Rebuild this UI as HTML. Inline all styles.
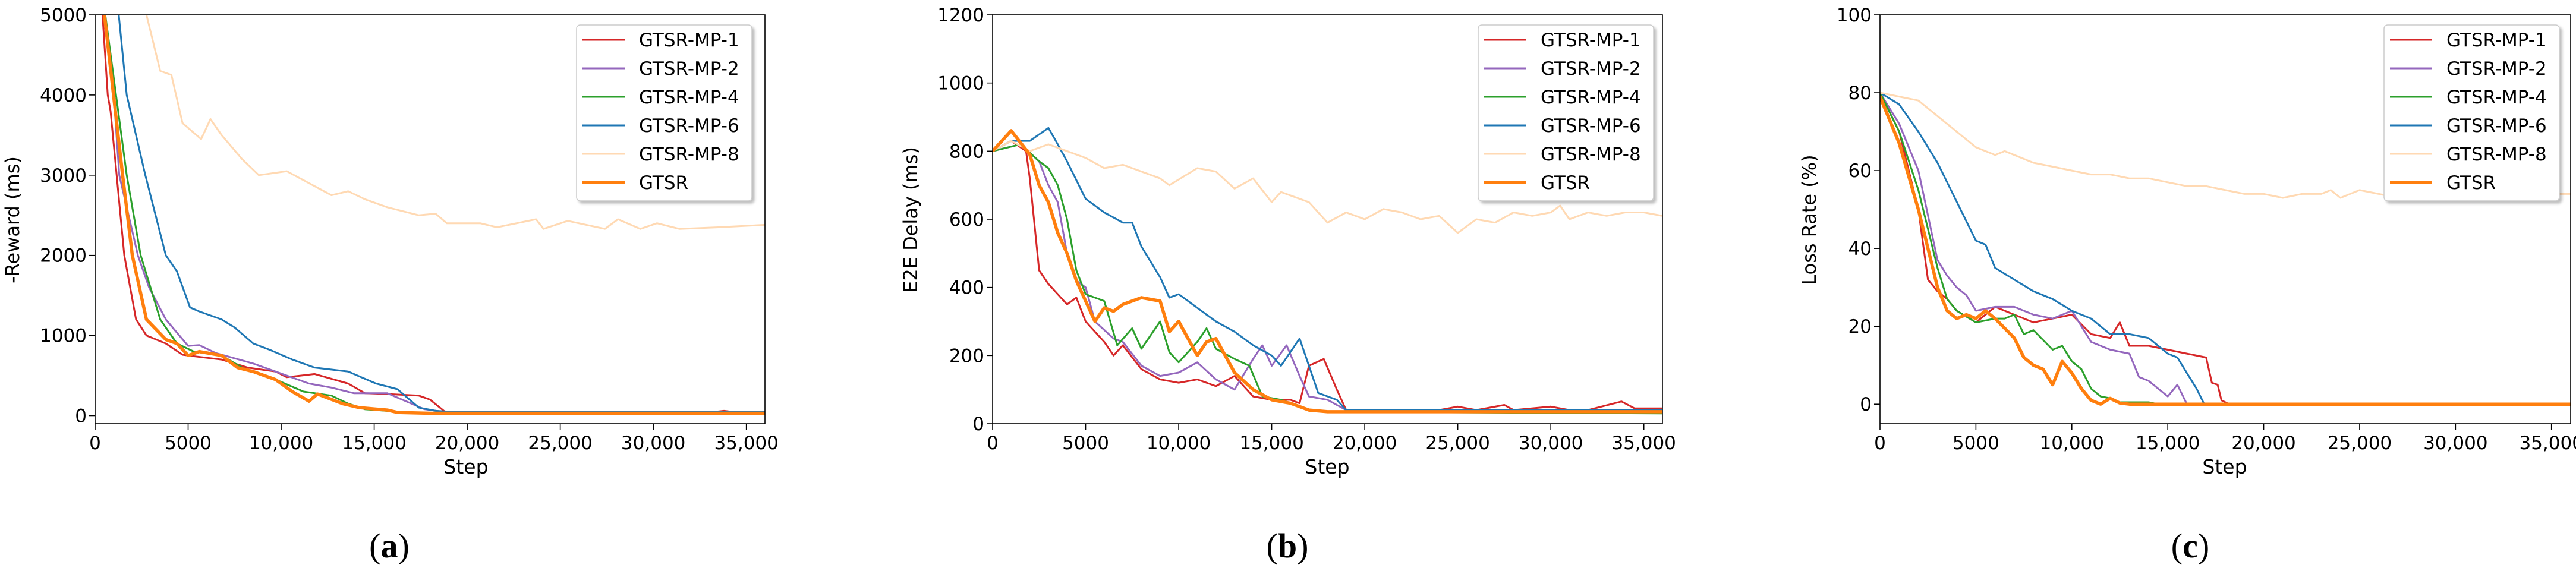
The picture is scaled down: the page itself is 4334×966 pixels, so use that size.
<!DOCTYPE html>
<html><head><meta charset="utf-8"><style>
html,body{margin:0;padding:0;background:#fff;}
svg{display:block;font-family:"DejaVu Sans","Liberation Sans",sans-serif;}
</style></head><body>
<svg id="fig" width="4334" height="966" viewBox="0 0 4334 966" xmlns="http://www.w3.org/2000/svg">
<defs>
<filter id="sh" x="-10%" y="-10%" width="130%" height="130%"><feDropShadow dx="4" dy="4" stdDeviation="2" flood-color="#000" flood-opacity="0.25"/></filter>
</defs>
</svg>
<script>
// ---- Panel (a): -Reward ----
const aS1=[0,400,680,830,1570,2200,2760,3800,4700,5000,6800,8200,9700,10300,11800,13600,14500,15700,17400,18000,18800,20000,33000,33800,34500,36000];
const aV1=[9000,5000,4000,3800,2000,1200,1000,900,760,750,700,600,550,480,520,400,280,270,250,200,50,40,40,60,40,40];
const aS2=[0,500,1000,1300,2300,2900,3800,5000,5600,6500,8500,9700,11500,12700,13900,15700,17000,17700,19000,36000];
const aV2=[9000,5000,4000,3000,2000,1600,1200,870,880,780,650,550,400,350,280,280,150,80,40,40];
const aS4=[0,550,1700,2450,3500,4400,5300,6800,7900,9700,11200,12700,13600,14500,16250,18000,36000];
const aV4=[9000,5000,3000,2000,1200,900,800,750,600,450,300,250,150,80,50,30,30];
const aS6=[0,1270,1700,2700,3800,4400,5100,5600,6800,7500,8500,9400,10600,11800,13600,15100,16250,17400,18300,19000,36000];
const aV6=[9000,5000,4000,3000,2000,1800,1350,1300,1200,1100,900,820,700,600,550,400,330,100,60,50,50];
const aS8=[0,2760,3500,4100,4700,5700,6200,6800,7900,8800,10300,11500,12700,13600,14500,15700,17400,18300,18900,20700,21600,23700,24100,25400,27400,28100,29300,30200,31400,33500,36000];
const aV8=[9000,5000,4300,4250,3650,3450,3700,3500,3200,3000,3050,2900,2750,2800,2700,2600,2500,2520,2400,2400,2350,2450,2330,2430,2330,2450,2330,2400,2330,2350,2380];
const aSG=[0,500,1480,2000,2760,3800,4400,5000,5600,6800,7650,8500,9700,10600,11500,11950,13300,14200,15700,16250,18000,36000];
const aVG=[9000,5000,3000,2000,1200,950,900,750,800,750,600,550,450,300,180,270,150,100,70,40,30,30];
// ---- Panel (b): E2E Delay ----
const bS1=[0,1000,1800,2000,2500,3000,3500,4000,4500,5000,6000,6500,7000,8000,9000,10000,11000,12000,13000,14000,15000,16000,16500,17000,17800,18500,19000,24000,25000,26000,27500,28000,30000,31000,32000,33800,34500,36000];
const bV1=[800,830,800,720,450,410,380,350,370,300,240,200,230,160,130,120,130,110,140,80,70,70,60,170,190,100,40,40,50,40,55,40,50,40,40,65,45,45];
const bS2=[0,1500,2500,3000,3500,4000,4500,5000,5500,6500,7000,8000,9000,10000,11000,12000,13000,14000,14500,15000,15800,16500,17000,18000,19000,36000];
const bV2=[800,820,770,700,650,500,420,400,300,250,240,170,140,150,180,130,100,190,230,170,230,140,80,70,40,40];
const bS4=[0,1500,2500,3000,3500,4000,4500,5000,6000,6700,7500,8000,9000,9500,10000,11000,11500,12000,13000,13800,14500,15500,16000,17000,18000,36000];
const bV4=[800,820,770,750,700,600,450,380,360,230,280,220,300,210,180,240,280,220,190,170,80,70,60,40,35,30];
const bS6=[0,1000,2000,3000,3500,4000,5000,6000,7000,7500,8000,9000,9500,10000,11000,12000,13000,14000,15000,15500,16500,17000,17500,18500,19000,36000];
const bV6=[800,830,830,868,820,770,660,620,590,590,520,430,370,380,340,300,270,230,200,170,250,170,90,70,40,40];
const bS8=[0,1000,2000,3000,4000,5000,6000,7000,8000,9000,9500,11000,12000,13000,14000,15000,15500,17000,18000,19000,20000,21000,22000,23000,24000,25000,26000,27000,28000,29000,30000,30500,31000,32000,33000,34000,35000,36000];
const bV8=[800,830,800,820,800,780,750,760,740,720,700,750,740,690,720,650,680,650,590,620,600,630,620,600,610,560,600,590,620,610,620,640,600,620,610,620,620,610];
const bSG=[0,1000,2000,2500,3000,3500,4000,4500,5000,5500,6000,6500,7000,8000,9000,9500,10000,11000,11500,12000,12500,13000,14000,15000,16000,17000,18000,36000];
const bVG=[800,860,790,700,650,560,500,420,360,300,340,330,350,370,360,270,300,200,240,250,200,150,100,70,60,40,35,35];
// ---- Panel (c): Loss Rate ----
const cS1=[0,1000,2000,2500,3000,3500,4000,5000,6000,7000,8000,9000,10000,11000,12000,12500,13000,14000,15000,16000,17000,17300,17600,17800,18200,36000];
const cV1=[80,70,50,32,29,27,24,21,25,23,21,22,23,18,17,21,15,15,14,13,12,5.5,5,1,0,0];
const cS2=[0,1000,2000,3000,3500,4000,4500,5000,6000,7000,8000,9000,10000,11000,12000,13000,13500,14000,14500,15000,15500,16000,36000];
const cV2=[80,72,60,37,33,30,28,24,25,25,23,22,24,16,14,13,7,6,4,2,5,0,0];
const cS4=[0,1000,2000,3000,3500,4000,5000,6000,6500,7000,7500,8000,9000,9500,10000,10500,11000,11500,12000,12500,14000,14500,36000];
const cV4=[80,70,55,35,27,24,21,22,22,23,18,19,14,15,11,9,4,2,1.5,0.5,0.5,0,0];
const cS6=[0,1000,2000,3000,4000,5000,5500,6000,7000,8000,9000,10000,11000,12000,13000,14000,15000,15500,16000,16500,16900,36000];
const cV6=[80,77,70,62,52,42,41,35,32,29,27,24,22,18,18,17,13,12,8,4,0,0];
const cS8=[0,1000,2000,3000,4000,5000,6000,6500,8000,9000,10000,11000,12000,13000,14000,15000,16000,17000,18000,19000,20000,21000,22000,23000,23500,24000,25000,26000,27000,28000,30000,33000,36000];
const cV8=[80,79,78,74,70,66,64,65,62,61,60,59,59,58,58,57,56,56,55,54,54,53,54,54,55,53,55,54,53,54,54,54,54];
const cSG=[0,1000,2000,2500,3000,3500,4000,4500,5000,5500,6000,7000,7500,8000,8500,9000,9500,10000,10500,11000,11500,12000,12500,13000,36000];
const cVG=[79,67,50,40,30,24,22,23,22,24,22,17,12,10,9,5,11,8,4,1,0,1.5,0.3,0,0];

const xTicks=[0,5000,10000,15000,20000,25000,30000,35000];
const xTickLabels=["0","5000","10,000","15,000","20,000","25,000","30,000","35,000"];
const aYTicks=[0,1000,2000,3000,4000,5000];
const bYTicks=[0,200,400,600,800,1000,1200];
const cYTicks=[0,20,40,60,80,100];
const seriesNames=["GTSR-MP-1","GTSR-MP-2","GTSR-MP-4","GTSR-MP-6","GTSR-MP-8","GTSR"];

const NS="http://www.w3.org/2000/svg";
const svg=document.getElementById('fig');
function mk(tag,attrs,parent){const e=document.createElementNS(NS,tag);for(const k in attrs)e.setAttribute(k,attrs[k]);(parent||svg).appendChild(e);return e;}
const colors=["#d62728","#9467bd","#2ca02c","#1f77b4","#ffd9b3","#ff7f0e"];
const widths=[3,3,3,3,3,5.5];
const slugs=["mp1","mp2","mp4","mp6","mp8","gtsr"];

const panels=[
 {id:"a",left:160,right:1287,ymin:-100,ymax:5000,yt:aYTicks,ylabel:"-Reward (ms)",ylx:32,legX:970,step:784,cap:655,
  data:[[aS1,aV1],[aS2,aV2],[aS4,aV4],[aS6,aV6],[aS8,aV8],[aSG,aVG]]},
 {id:"b",left:1670,right:2797,ymin:0,ymax:1200,yt:bYTicks,ylabel:"E2E Delay (ms)",ylx:1543,legX:2487,step:2233,cap:2166,
  data:[[bS1,bV1],[bS2,bV2],[bS4,bV4],[bS6,bV6],[bS8,bV8],[bSG,bVG]]},
 {id:"c",left:3163,right:4325,ymin:-5,ymax:100,yt:cYTicks,ylabel:"Loss Rate (%)",ylx:3055,legX:4011,step:3743,cap:3685,
  data:[[cS1,cV1],[cS2,cV2],[cS4,cV4],[cS6,cV6],[cS8,cV8],[cSG,cVG]]}
];
const TOP=25,BOT=713,XMAX=36000;
panels.forEach(p=>{
 const xs=v=>p.left+(v/XMAX)*(p.right-p.left);
 const ys=v=>BOT-(v-p.ymin)/(p.ymax-p.ymin)*(BOT-TOP);
 const g=mk('g',{});
 
 
 const cp=mk('clipPath',{id:'clip'+p.id},g);
 mk('rect',{x:p.left,y:TOP,width:p.right-p.left,height:BOT-TOP},cp);
 const lg=mk('g',{'clip-path':'url(#clip'+p.id+')'},g);
 
 
 p.data.forEach((d,i)=>{
  const pts=d[0].map((s,j)=>xs(s).toFixed(1)+','+ys(d[1][j]).toFixed(1)).join(' ');
  const pl=mk('polyline',{points:pts,fill:'none',stroke:colors[i],'stroke-width':widths[i],'stroke-linejoin':'round'},lg);
  
  
 });
 const fr=mk('rect',{x:p.left,y:TOP,width:p.right-p.left,height:BOT-TOP,fill:'none',stroke:'#000','stroke-width':1.6},g);
 
 
 xTicks.forEach((t,i)=>{
  const x=xs(t);
  mk('line',{x1:x,y1:BOT,x2:x,y2:BOT+10,stroke:'#000','stroke-width':1.6},g);
  const tx=mk('text',{x:x,y:BOT+43,'font-size':31,'text-anchor':'middle',fill:'#000'},g);
  tx.textContent=xTickLabels[i];
  
  
 });
 p.yt.forEach(t=>{
  const y=ys(t);
  mk('line',{x1:p.left-10,y1:y,x2:p.left,y2:y,stroke:'#000','stroke-width':1.6},g);
  const tx=mk('text',{x:p.left-14,y:y+11,'font-size':31,'text-anchor':'end',fill:'#000'},g);
  tx.textContent=String(t);
  
  
 });
 const yl=mk('text',{x:p.ylx,y:370,'font-size':32,'text-anchor':'middle',transform:'rotate(-90 '+p.ylx+' 370)',fill:'#000'},g);
 yl.textContent=p.ylabel;
 
 
 const xl=mk('text',{x:p.step,y:797,'font-size':33,'text-anchor':'middle',fill:'#000'},g);
 xl.textContent="Step";
 
 
 const cap=mk('text',{x:p.cap,y:938,'font-size':58,'text-anchor':'middle','font-family':'"Liberation Serif",serif',fill:'#000'},g);
 cap.textContent="(";
 const b=mk('tspan',{'font-weight':'bold'},cap);b.textContent=p.id;
 const c2=mk('tspan',{},cap);c2.textContent=")";
 
 
 const leg=mk('g',{},g);
 
 
 mk('rect',{x:p.legX,y:42,width:295,height:296,rx:6,fill:'#fff',stroke:'#ccc','stroke-width':1.5,filter:'url(#sh)'},leg);
 seriesNames.forEach((n,i)=>{
  const y=67+i*48;
  const e=mk('g',{},leg);
  
  
  mk('line',{x1:p.legX+10,y1:y,x2:p.legX+81,y2:y,stroke:colors[i],'stroke-width':widths[i]},e);
  const t=mk('text',{x:p.legX+105,y:y+11,'font-size':31,fill:'#000'},e);
  t.textContent=n;
 });
});
</script>
</body></html>
